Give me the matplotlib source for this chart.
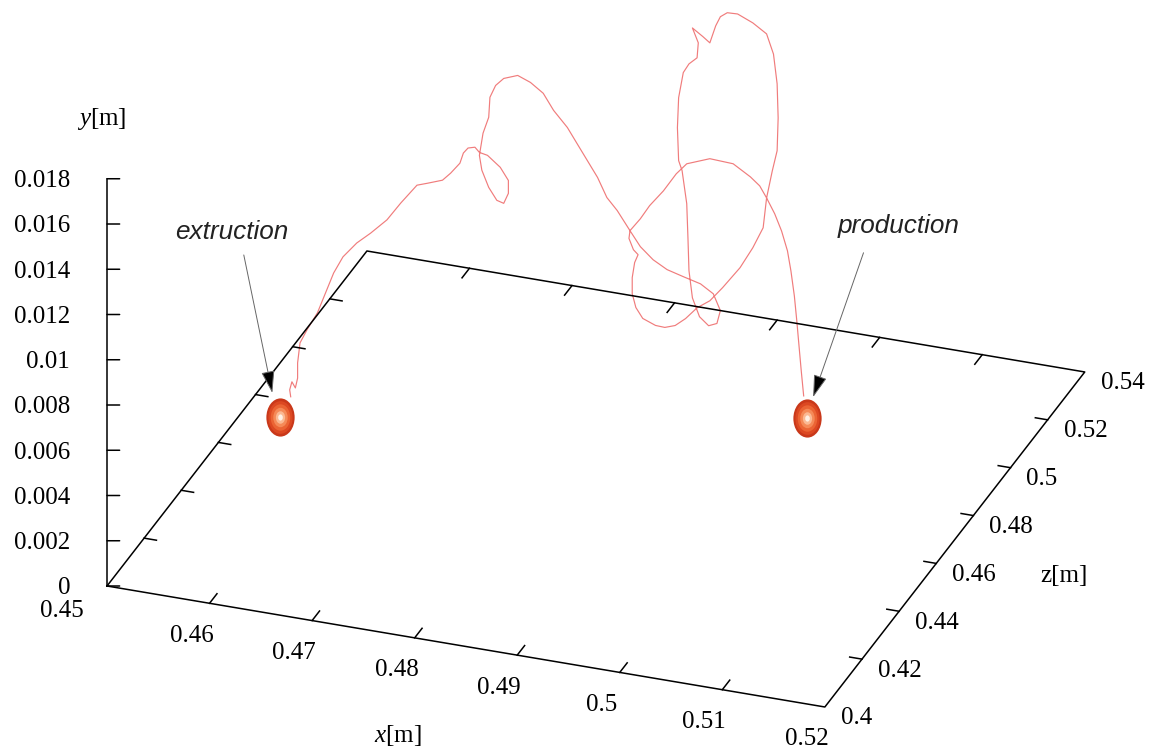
import numpy as np
import matplotlib.pyplot as plt
from matplotlib import font_manager
from matplotlib.path import Path
from matplotlib.transforms import Affine2D, ScaledTranslation
from mpl_toolkits.mplot3d import proj3d

plt.rcParams['font.family'] = 'Liberation Serif'
plt.rcParams['mathtext.fontset'] = 'custom'
plt.rcParams['mathtext.rm'] = 'Liberation Serif'
plt.rcParams['mathtext.it'] = 'Liberation Serif:italic'

# axes (x along the front, z to the back, y vertical)
x_ticks = [0.45, 0.46, 0.47, 0.48, 0.49, 0.50, 0.51, 0.52]
x_labels = ['0.45', '0.46', '0.47', '0.48', '0.49', '0.5', '0.51', '0.52']
z_ticks = [0.40, 0.42, 0.44, 0.46, 0.48, 0.50, 0.52, 0.54]
z_labels = ['0.4', '0.42', '0.44', '0.46', '0.48', '0.5', '0.52', '0.54']
y_ticks = [0, 0.002, 0.004, 0.006, 0.008, 0.010, 0.012, 0.014, 0.016, 0.018]
y_labels = ['0', '0.002', '0.004', '0.006', '0.008', '0.01', '0.012', '0.014', '0.016', '0.018']

# wells
well_names = ['extruction', 'production']
well_x = [0.4597, 0.5052]
well_z = [0.4398, 0.4722]
well_y = [0.004, 0.004]

# particle trajectory
path_x = [0.4606, 0.4605, 0.4607, 0.4610, 0.4612, 0.4612, 0.4614, 0.4620, 0.4629, 0.4636,
          0.4643, 0.4651, 0.4663, 0.4675, 0.4689, 0.4701, 0.4715, 0.4724, 0.4737, 0.4744,
          0.4752, 0.4755, 0.4759, 0.4765, 0.4769, 0.4776, 0.4787, 0.4794, 0.4794, 0.4790,
          0.4784, 0.4777, 0.4771, 0.4769, 0.4772, 0.4777, 0.4778, 0.4783, 0.4790, 0.4802,
          0.4813, 0.4824, 0.4833, 0.4845, 0.4853, 0.4862, 0.4871, 0.4879, 0.4888, 0.4899,
          0.4908, 0.4919, 0.4931, 0.4945, 0.4960, 0.4971, 0.4977, 0.4974, 0.4967, 0.4959,
          0.4953, 0.4950, 0.4949, 0.4948, 0.4944, 0.4941, 0.4940, 0.4941, 0.4945, 0.4950,
          0.4957, 0.4958, 0.4953, 0.4962, 0.4968, 0.4973, 0.4977, 0.4983, 0.4992, 0.5005,
          0.5017, 0.5023, 0.5026, 0.5027, 0.5026, 0.5022, 0.5017, 0.5014, 0.5005, 0.4994,
          0.4979, 0.4968, 0.4957, 0.4947, 0.4938, 0.4929, 0.4921, 0.4910, 0.4904, 0.4901,
          0.4901, 0.4903, 0.4906, 0.4902, 0.4898, 0.4899, 0.4908, 0.4916, 0.4928, 0.4939,
          0.4948, 0.4968, 0.4988, 0.5003, 0.5011, 0.5017, 0.5024, 0.5030, 0.5035, 0.5038,
          0.5041, 0.5043, 0.5045, 0.5047, 0.5049]
path_z = [0.4404, 0.4404, 0.4405, 0.4407, 0.4408, 0.4408, 0.4410, 0.4415, 0.4421, 0.4426,
          0.4431, 0.4437, 0.4445, 0.4453, 0.4464, 0.4472, 0.4482, 0.4488, 0.4498, 0.4503,
          0.4509, 0.4511, 0.4514, 0.4518, 0.4520, 0.4525, 0.4533, 0.4538, 0.4538, 0.4535,
          0.4531, 0.4526, 0.4522, 0.4520, 0.4523, 0.4526, 0.4527, 0.4530, 0.4535, 0.4544,
          0.4552, 0.4560, 0.4566, 0.4574, 0.4581, 0.4587, 0.4593, 0.4599, 0.4605, 0.4613,
          0.4619, 0.4627, 0.4636, 0.4646, 0.4656, 0.4664, 0.4669, 0.4667, 0.4661, 0.4656,
          0.4651, 0.4649, 0.4649, 0.4648, 0.4645, 0.4643, 0.4642, 0.4643, 0.4646, 0.4649,
          0.4654, 0.4655, 0.4651, 0.4658, 0.4662, 0.4666, 0.4669, 0.4673, 0.4679, 0.4689,
          0.4697, 0.4701, 0.4704, 0.4704, 0.4704, 0.4700, 0.4697, 0.4695, 0.4689, 0.4681,
          0.4670, 0.4662, 0.4654, 0.4647, 0.4641, 0.4635, 0.4629, 0.4621, 0.4617, 0.4614,
          0.4614, 0.4616, 0.4618, 0.4615, 0.4613, 0.4613, 0.4619, 0.4625, 0.4633, 0.4641,
          0.4648, 0.4662, 0.4677, 0.4687, 0.4693, 0.4697, 0.4702, 0.4706, 0.4710, 0.4712,
          0.4714, 0.4716, 0.4717, 0.4718, 0.4720]
path_y = [0.00490, 0.00520, 0.00556, 0.00529, 0.00573, 0.00640, 0.00728, 0.00786, 0.00861, 0.00949,
          0.01037, 0.01108, 0.01170, 0.01214, 0.01272, 0.01347, 0.01426, 0.01435, 0.01448, 0.01479,
          0.01523, 0.01568, 0.01590, 0.01594, 0.01572, 0.01559, 0.01506, 0.01448, 0.01391, 0.01347,
          0.01360, 0.01417, 0.01493, 0.01559, 0.01656, 0.01727, 0.01815, 0.01868, 0.01899, 0.01912,
          0.01881, 0.01833, 0.01758, 0.01683, 0.01612, 0.01537, 0.01462, 0.01373, 0.01316, 0.01227,
          0.01157, 0.01099, 0.01055, 0.01024, 0.00993, 0.00949, 0.00874, 0.00817, 0.00808, 0.00847,
          0.00931, 0.01051, 0.01196, 0.01347, 0.01493, 0.01537, 0.01683, 0.01815, 0.01926, 0.01965,
          0.01992, 0.02058, 0.02124, 0.02085, 0.02058, 0.02133, 0.02173, 0.02191, 0.02186, 0.02146,
          0.02098, 0.02009, 0.01877, 0.01727, 0.01581, 0.01493, 0.01373, 0.01241, 0.01152, 0.01064,
          0.00976, 0.00918, 0.00887, 0.00839, 0.00808, 0.00799, 0.00808, 0.00839, 0.00887, 0.00949,
          0.01020, 0.01086, 0.01121, 0.01143, 0.01192, 0.01227, 0.01280, 0.01338, 0.01404, 0.01479,
          0.01523, 0.01546, 0.01523, 0.01466, 0.01426, 0.01373, 0.01303, 0.01227, 0.01139, 0.01051,
          0.00940, 0.00830, 0.00719, 0.00609, 0.00498]

W, H = 1155, 756
fig = plt.figure(figsize=(W / 100, H / 100), dpi=100)
ax = fig.add_axes([-0.1, -0.35, 1.2, 1.7], projection='3d')
ax.set_proj_type('ortho')
ax.view_init(elev=27.78, azim=-70.12)
ax.set_xlim(x_ticks[0], x_ticks[-1])
ax.set_ylim(z_ticks[0], z_ticks[-1])
ax.set_zlim(y_ticks[0], y_ticks[-1])
box = (1.0, 1.0013, 0.603)
ax.set_box_aspect(box)
ax.set_axis_off()
ax.computed_zorder = False

x0, x1 = x_ticks[0], x_ticks[-1]
z0, z1 = z_ticks[0], z_ticks[-1]


def proj2d(x, z, y):
    px, py, _ = proj3d.proj_transform(x, z, y, ax.get_proj())
    return px, py


def to_disp(x, z, y):
    return ax.transData.transform(proj2d(x, z, y))


# put the floor corners where they sit in the reference (pixels, origin bottom-left)
corner_a = np.array([107.0, 170.0])
corner_c = np.array([1085.0, 383.0])
fig.canvas.draw()
a = to_disp(x0, z0, 0)
c = to_disp(x1, z1, 0)
ax.set_box_aspect(box, zoom=np.hypot(*(corner_c - corner_a)) / np.hypot(*(c - a)))
fig.canvas.draw()
a = to_disp(x0, z0, 0)
pos = ax.get_position(original=True)
ax.set_position([pos.x0 + (corner_a[0] - a[0]) / W, pos.y0 + (corner_a[1] - a[1]) / H,
                 pos.width, pos.height])
fig.canvas.draw()

# floor frame and vertical axis
ax.plot([x0, x1, x1, x0, x0], [z0, z0, z1, z1, z0], [0, 0, 0, 0, 0], color='black', lw=1.1, zorder=3)
ax.plot([x0, x0], [z0, z0], [y_ticks[0], y_ticks[-1]], color='black', lw=1.1, zorder=3)
tz = 0.004
tx = 0.0012
for xv in x_ticks[1:-1]:
    ax.plot([xv, xv], [z0, z0 + tz], [0, 0], color='black', lw=1.1, zorder=3)
    ax.plot([xv, xv], [z1, z1 - tz], [0, 0], color='black', lw=1.1, zorder=3)
for zv in z_ticks[1:-1]:
    ax.plot([x0, x0 + tx], [zv, zv], [0, 0], color='black', lw=1.1, zorder=3)
    ax.plot([x1, x1 - tx], [zv, zv], [0, 0], color='black', lw=1.1, zorder=3)

# trajectory
ax.plot(path_x, path_z, path_y, color='#f07c7c', lw=0.85, zorder=2)

# wells drawn as shaded balls
ball = Path.unit_circle().transformed(Affine2D().scale(0.74, 1.0))
shades = [(27.5, '#c9381a'), (23.5, '#dc4822'), (19, '#eb6434'), (14, '#f58a58'),
          (9, '#fbb993'), (4.5, '#fff0e4')]
for wx, wz, wy in zip(well_x, well_z, well_y):
    for k, (ms, col) in enumerate(shades):
        ax.plot([wx], [wz], [wy], ls='none', marker=ball, ms=ms, mfc=col, mew=0, zorder=5 + k * 0.01)

tick_font = dict(fontsize=18, family='Liberation Serif')
for yv, lab in zip(y_ticks, y_labels):
    p = proj2d(x0, z0, yv)
    ax.annotate('', xy=p, xytext=(9.1, 0), textcoords='offset points',
                arrowprops=dict(arrowstyle='-', lw=1.1, color='black', shrinkA=0, shrinkB=0))
    ax.annotate(lab, xy=p, xytext=(-26.6, -6.1), textcoords='offset points',
                ha='right', va='baseline', **tick_font)
for i, (xv, lab) in enumerate(zip(x_ticks, x_labels)):
    # the first label sits tucked under the corner in the reference
    off = (-32.4, -22.5) if i == 0 else (-13, -27.7)
    ax.annotate(lab, xy=proj2d(xv, z0, 0), xytext=off, textcoords='offset points',
                ha='center', va='baseline', **tick_font)
for zv, lab in zip(z_ticks, z_labels):
    ax.annotate(lab, xy=proj2d(x1, zv, 0), xytext=(11.5, -12.6), textcoords='offset points',
                ha='left', va='baseline', **tick_font)

ax.annotate('$y$[m]', xy=proj2d(x0, z0, y_ticks[-1]), xytext=(-3.6, 43), textcoords='offset points',
            ha='center', va='center', fontsize=18)
ax.annotate('$x$[m]', xy=proj2d((x0 + x1) / 2, z0, 0), xytext=(-49, -64.4), textcoords='offset points',
            ha='center', va='center', fontsize=18)
ax.annotate('z[m]', xy=proj2d(x1, (z0 + z1) / 2, 0), xytext=(78.5, -26.3), textcoords='offset points',
            ha='center', va='center', fontsize=18)

# labels with arrows pointing at the wells
names = {f.name for f in font_manager.fontManager.ttflist}
if 'Liberation Sans Narrow' in names:
    lab_font = dict(family='Liberation Sans Narrow', fontsize=22, style='italic')
else:
    lab_font = dict(family='Liberation Sans', fontsize=18.8, style='italic')
tip_off = [(-5.8, 17.3), (4.3, 15.1)]
text_off = [(-29.5, 115.9), (61.9, 123.1)]
rel = [(0.59, 0.0), (0.25, 0.0)]
gap = [6, 9]
for i, name in enumerate(well_names):
    tip = ax.transData + ScaledTranslation(tip_off[i][0] / 72, tip_off[i][1] / 72, fig.dpi_scale_trans)
    ax.annotate(name, xy=proj2d(well_x[i], well_z[i], well_y[i]), xycoords=tip,
                xytext=text_off[i], textcoords='offset points', ha='center', va='center',
                color='#222222', zorder=8, **lab_font,
                arrowprops=dict(arrowstyle='-|>,head_length=1.4,head_width=0.42', mutation_scale=10,
                                fc='black', ec='#666666', lw=0.7, shrinkA=gap[i], shrinkB=0,
                                relpos=rel[i]))

fig.savefig('out.png', dpi=100)
